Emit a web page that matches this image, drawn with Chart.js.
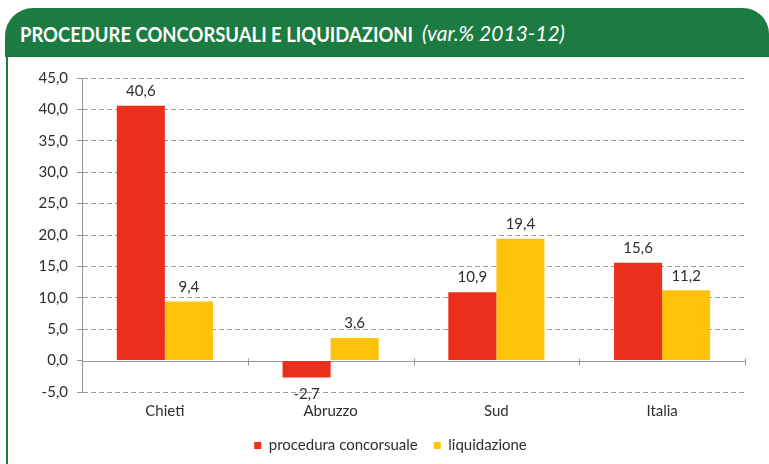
<!DOCTYPE html>
<html>
<head>
<meta charset="utf-8">
<script src="https://cdn.jsdelivr.net/npm/chart.js@4"></script>
<style>
  html, body { margin: 0; padding: 0; background: #fff; }
  #wrap { position: relative; width: 769px; height: 464px; overflow: hidden; }
  #head {
    position: absolute; left: 5px; top: 8px; width: 764px; height: 49px;
    background: #1b7b40; border-radius: 28px 26px 0 0; z-index: 2;
    color: #fff; white-space: nowrap;
  }
  #head .t {
    position: absolute; left: 15px; top: 15px; display: inline-block;
    transform-origin: 0 0;
    font-family: "Lato", "Noto Sans", sans-serif;
    font-weight: bold; font-size: 21px; line-height: 21px;
  }
  #head .s {
    position: absolute; left: 417px; top: 14px;
    font-family: "Lato", "Noto Sans", sans-serif; font-style: italic;
    font-weight: normal; font-size: 21px; line-height: 21px;
  }
  #edge { position: absolute; left: 6px; top: 56px; width: 2px; height: 408px; background: #1b7b40; }
  canvas { position: absolute; left: 0; top: 0; }
</style>
</head>
<body>
<div id="wrap">
  <div id="head"><span class="t" id="t">PROCEDURE CONCORSUALI E LIQUIDAZIONI</span><span class="s">(var.% 2013-12)</span></div>
  <div id="edge"></div>
  <canvas id="c" width="769" height="464"></canvas>
</div>
<script>
const categories = ["Chieti", "Abruzzo", "Sud", "Italia"];
const seriesNames = ["procedura concorsuale", "liquidazione"];
const procedura = [40.6, -2.7, 10.9, 15.6];
const liquidazione = [9.4, 3.6, 19.4, 11.2];
const yTicks = [-5, 0, 5, 10, 15, 20, 25, 30, 35, 40, 45];

const RED = "#ec2f1c";
const YELLOW = "#fdc30b";
const TEXT = "#2e2e2e";
const AXIS = "#9a9494";
const GRID = "#ab9a90";
const FONT = "Lato, 'Noto Sans', sans-serif";

// squeeze the bold title to the condensed width of the original
const t = document.getElementById("t");
t.style.transform = `scaleX(${393 / t.getBoundingClientRect().width})`;

const fmt = (v) => v.toFixed(1).replace(".", ",");

// zero line with small category ticks
const zeroLine = {
  id: "zeroLine",
  beforeDatasetsDraw(chart) {
    const { ctx, chartArea, scales } = chart;
    const y0 = Math.round(scales.y.getPixelForValue(0)) + 0.5;
    const step = chartArea.width / categories.length;
    ctx.save();
    ctx.strokeStyle = AXIS;
    ctx.lineWidth = 1;
    ctx.beginPath();
    ctx.moveTo(chartArea.left, y0);
    ctx.lineTo(chartArea.right, y0);
    for (let i = 1; i <= categories.length; i++) {
      const x = Math.round(chartArea.left + i * step) + 0.5;
      ctx.moveTo(x, y0 - 3);
      ctx.lineTo(x, y0 + 4);
    }
    ctx.stroke();
    ctx.restore();
  },
};

// value labels over / under each bar
const valueLabels = {
  id: "valueLabels",
  afterDatasetsDraw(chart) {
    const { ctx } = chart;
    ctx.save();
    ctx.font = "15px " + FONT;
    ctx.fillStyle = TEXT;
    ctx.textAlign = "center";
    chart.data.datasets.forEach((ds, di) => {
      chart.getDatasetMeta(di).data.forEach((bar, i) => {
        const v = ds.data[i];
        if (v >= 0) {
          ctx.textBaseline = "bottom";
          ctx.fillText(fmt(v), bar.x, bar.y - 7);
        } else {
          ctx.textBaseline = "top";
          ctx.fillText(fmt(v), bar.x, bar.y + 9);
        }
      });
    });
    ctx.restore();
  },
};

// legend sits a bit right of the canvas centre in the original
const legendShift = {
  id: "legendShift",
  afterLayout(chart) {
    chart.legend.left = 36;
  },
};

new Chart(document.getElementById("c"), {
  type: "bar",
  data: {
    labels: categories,
    datasets: [
      { label: seriesNames[0], data: procedura, backgroundColor: RED },
      { label: seriesNames[1], data: liquidazione, backgroundColor: YELLOW },
    ],
  },
  options: {
    responsive: false,
    animation: false,
    categoryPercentage: 0.58,
    barPercentage: 1.0,
    layout: { padding: { top: 78, right: 24, left: 0, bottom: 1 } },
    plugins: {
      legend: {
        position: "bottom",
        labels: {
          boxWidth: 7,
          boxHeight: 7,
          padding: 16,
          color: TEXT,
          font: { family: FONT, size: 15 },
        },
      },
      tooltip: { enabled: false },
      title: { display: false },
    },
    scales: {
      x: {
        grid: { display: false, drawTicks: false },
        border: { display: false },
        afterFit: (s) => { s.height = 30; },
        ticks: { color: TEXT, padding: 10, font: { family: FONT, size: 15 } },
      },
      y: {
        min: -5,
        max: 45,
        afterBuildTicks: (s) => { s.ticks = yTicks.map((v) => ({ value: v })); },
        afterFit: (s) => { s.width = 82; },
        border: { display: true, color: AXIS, width: 1, dash: [5, 3] },
        grid: {
          color: (c) => (c.tick && c.tick.value === 0 ? "rgba(0,0,0,0)" : GRID),
          tickColor: AXIS,
          tickLength: 5,
          lineWidth: 1,
        },
        ticks: {
          color: TEXT,
          padding: 9,
          font: { family: FONT, size: 15 },
          callback: (v) => fmt(v),
        },
      },
    },
  },
  plugins: [zeroLine, valueLabels, legendShift],
});
</script>
</body>
</html>
